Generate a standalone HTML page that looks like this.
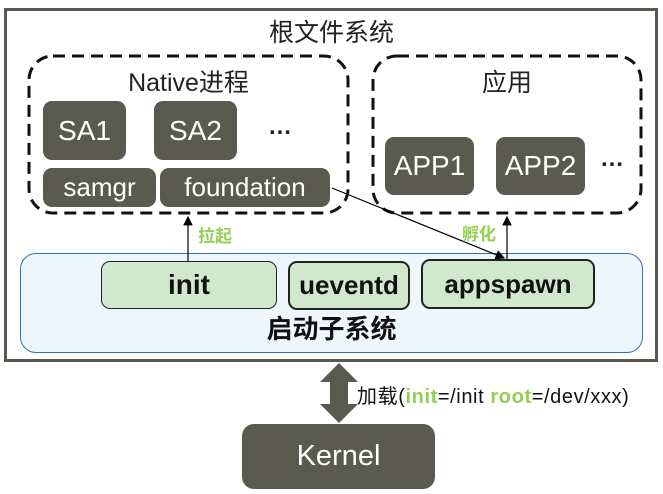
<!DOCTYPE html>
<html><head><meta charset="utf-8"><style>
body{margin:0;width:663px;height:494px;background:#fff;overflow:hidden;position:relative;font-family:"Liberation Sans","Noto Sans CJK SC",sans-serif}
.a{position:absolute;box-sizing:border-box}
.d{background:#5b5a51;color:#fff;border-radius:9px;display:flex;align-items:center;justify-content:center}
.g{background:#d0e9cc;border:1.5px solid #222;border-radius:9px;display:flex;align-items:center;justify-content:center;font-weight:bold;color:#111;font-size:26px}
.t{position:absolute;white-space:nowrap}
</style></head><body>
<div class="a" style="left:4px;top:8px;width:654px;height:354px;border:3px solid #595950"></div>
<div class="t" style="left:0;width:663px;text-align:center;top:13px;font-size:25px;color:#222">根文件系统</div>
<svg class="a" style="left:0;top:0" width="663" height="494">
<rect x="29" y="56" width="319" height="157" rx="24" fill="none" stroke="#111" stroke-width="3" stroke-dasharray="12 7"/>
<rect x="373" y="56" width="268" height="157" rx="24" fill="none" stroke="#111" stroke-width="3" stroke-dasharray="12 7"/>
</svg>
<div class="t" style="left:29px;width:319px;text-align:center;top:63px;font-size:25px;color:#222">Native进程</div>
<div class="t" style="left:373px;width:268px;text-align:center;top:63px;font-size:25px;color:#222">应用</div>
<div class="a d" style="left:43px;top:101px;width:83px;height:59px;font-size:28px">SA1</div>
<div class="a d" style="left:154px;top:101px;width:83px;height:59px;font-size:28px">SA2</div>
<div class="t" style="left:268px;top:113px;font-size:24px;font-weight:bold;color:#222">…</div>
<div class="a d" style="left:43px;top:168px;width:113px;height:39px;font-size:26px">samgr</div>
<div class="a d" style="left:160px;top:168px;width:170px;height:39px;font-size:26px">foundation</div>
<div class="a d" style="left:385px;top:137px;width:89px;height:58px;font-size:28px">APP1</div>
<div class="a d" style="left:496px;top:137px;width:89px;height:58px;font-size:28px">APP2</div>
<div class="t" style="left:600px;top:145px;font-size:24px;font-weight:bold;color:#222">…</div>
<div class="a" style="left:20px;top:253px;width:623px;height:100px;background:#eef7fe;border:1.5px solid #2e75b6;border-radius:16px"></div>
<div class="a g" style="left:101px;top:261px;width:176px;height:48px;font-size:28px">init</div>
<div class="a g" style="left:288px;top:261px;width:122px;height:49px;border-width:2px">ueventd</div>
<div class="a g" style="left:421px;top:259px;width:174px;height:50px;border-width:2px">appspawn</div>
<div class="t" style="left:0;width:663px;text-align:center;top:309px;font-size:26px;font-weight:bold;color:#111">启动子系统</div>
<svg class="a" style="left:0;top:0" width="663" height="494">
<defs><marker id="m" markerWidth="8" markerHeight="8" refX="7" refY="4" orient="auto"><path d="M0,0L8,4L0,8z" fill="#000"/></marker></defs>
<line x1="188" y1="261" x2="188" y2="217" stroke="#000" stroke-width="1.2" marker-end="url(#m)"/>
<line x1="507" y1="259" x2="507" y2="217" stroke="#000" stroke-width="1.2" marker-end="url(#m)"/>
<line x1="332" y1="188" x2="504" y2="258" stroke="#000" stroke-width="1.2" marker-end="url(#m)"/>
<path d="M339,363L358,382L348,382L348,404L358,404L339,423L320,404L330,404L330,382L320,382z" fill="#595950"/>
</svg>
<div class="t" style="left:198px;top:222px;font-size:17px;font-weight:bold;color:#92d050">拉起</div>
<div class="t" style="left:462px;top:220px;font-size:17px;font-weight:bold;color:#92d050">孵化</div>
<div class="t" style="left:357px;top:380px;font-size:20px;letter-spacing:0.6px;color:#111">加载(<b style="color:#92d050">init</b>=/init <b style="color:#92d050">root</b>=/dev/xxx)</div>
<div class="a d" style="left:242px;top:424px;width:193px;height:65px;font-size:29px;border-radius:12px">Kernel</div>
</body></html>
